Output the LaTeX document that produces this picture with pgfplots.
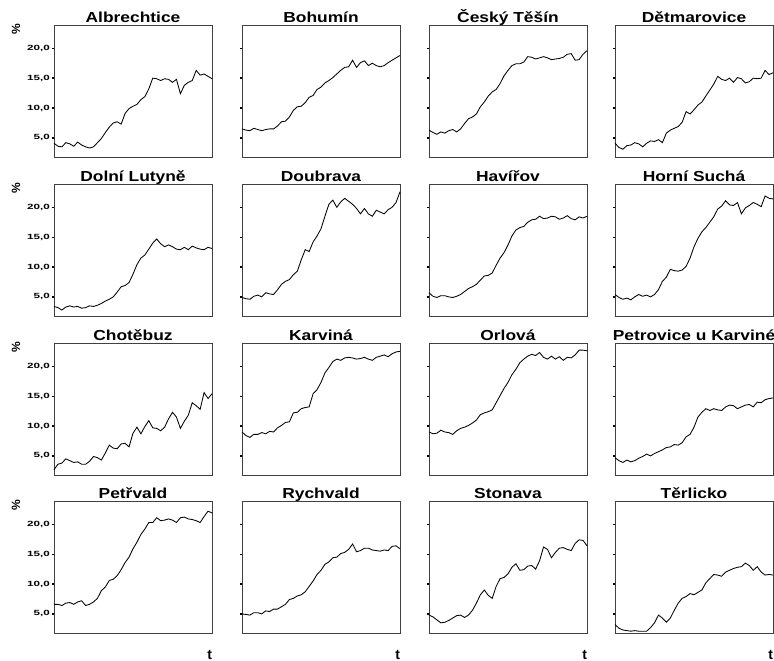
\documentclass[border=0pt]{standalone}
\usepackage{fontspec}
\setmainfont{Liberation Sans}
\usepackage{graphicx}
\usepackage{pgfplots}
\usepackage{pgfplotstable}
\pgfplotsset{compat=1.18}

\newcommand\tl[1]{\scalebox{1.55}[1]{\fontsize{7.5}{7.5}\selectfont\bfseries #1}}
\newcommand\ttl[1]{\scalebox{1.2}[1]{\fontsize{14.5}{14.5}\selectfont\bfseries #1}}

\pgfplotstableread[row sep=\\]{y\\4.1\\3.6\\3.5\\4.2\\4.0\\3.6\\4.3\\3.8\\3.5\\3.3\\3.5\\4.2\\4.9\\5.9\\6.8\\7.5\\7.7\\7.3\\9.1\\9.9\\10.3\\10.6\\11.4\\11.9\\13.2\\15.0\\14.9\\14.6\\14.9\\14.8\\14.3\\14.8\\12.4\\13.8\\14.3\\14.6\\16.3\\15.5\\15.7\\15.3\\14.9\\}\tA
\pgfplotstableread[row sep=\\]{y\\6.5\\6.3\\6.2\\6.6\\6.4\\6.2\\6.4\\6.5\\6.5\\7.0\\7.7\\7.8\\8.5\\9.6\\10.2\\10.3\\10.9\\11.8\\12.1\\13.1\\13.5\\14.2\\14.6\\15.1\\15.7\\16.3\\16.8\\16.9\\18.0\\16.8\\17.6\\17.9\\17.1\\17.5\\17.1\\16.9\\17.1\\17.6\\18.0\\18.4\\18.8\\}\tB
\pgfplotstableread[row sep=\\]{y\\6.3\\5.9\\5.6\\6.0\\5.8\\6.2\\6.4\\6.0\\6.5\\7.4\\8.2\\8.5\\9.0\\10.2\\11.0\\12.0\\12.7\\13.1\\14.1\\15.4\\16.3\\17.1\\17.4\\17.4\\17.7\\18.6\\18.5\\18.2\\18.4\\18.6\\18.4\\18.1\\18.2\\18.3\\18.5\\19.0\\19.1\\18.0\\18.1\\19.0\\19.6\\}\tC
\pgfplotstableread[row sep=\\]{y\\4.1\\3.4\\3.1\\3.7\\3.8\\4.2\\4.0\\3.5\\4.1\\4.5\\4.4\\4.7\\4.2\\5.8\\6.3\\6.6\\6.9\\7.6\\9.4\\9.0\\9.7\\10.5\\11.0\\12.0\\13.0\\14.0\\15.3\\14.8\\14.6\\15.0\\14.3\\15.1\\14.9\\14.2\\14.4\\15.0\\14.9\\15.0\\16.3\\15.6\\15.9\\}\tD
\pgfplotstableread[row sep=\\]{y\\3.4\\3.2\\2.8\\3.3\\3.5\\3.3\\3.4\\3.1\\3.2\\3.5\\3.4\\3.6\\3.9\\4.3\\4.6\\5.0\\5.8\\6.7\\6.9\\7.4\\8.8\\10.4\\11.5\\12.0\\13.0\\14.0\\14.7\\13.9\\13.4\\13.7\\13.4\\13.0\\12.9\\13.3\\12.9\\13.5\\13.2\\13.0\\12.9\\13.3\\13.1\\}\tE
\pgfplotstableread[row sep=\\]{y\\4.9\\4.7\\4.6\\5.1\\5.3\\5.0\\5.7\\5.5\\5.4\\6.2\\7.1\\7.6\\7.9\\8.7\\9.3\\11.2\\12.9\\12.6\\14.2\\15.2\\16.4\\18.5\\20.5\\21.2\\20.0\\20.9\\21.5\\21.0\\20.5\\19.8\\18.9\\19.8\\18.9\\18.5\\19.5\\19.2\\18.9\\19.6\\20.0\\20.8\\22.6\\}\tF
\pgfplotstableread[row sep=\\]{y\\5.7\\5.1\\4.9\\5.2\\5.2\\5.0\\4.9\\5.1\\5.4\\5.9\\6.4\\6.7\\7.1\\7.8\\8.5\\8.6\\9.0\\10.3\\11.5\\12.4\\13.7\\15.2\\16.2\\16.6\\16.8\\17.5\\17.9\\18.0\\18.5\\18.1\\18.2\\18.5\\18.4\\18.0\\18.2\\18.6\\18.1\\17.9\\18.4\\18.2\\18.5\\}\tG
\pgfplotstableread[row sep=\\]{y\\5.4\\4.9\\4.6\\4.8\\4.5\\5.0\\5.4\\5.1\\5.3\\5.0\\5.4\\6.2\\7.6\\8.3\\9.6\\9.4\\9.3\\9.5\\10.1\\11.5\\13.4\\14.8\\15.9\\16.6\\17.5\\18.4\\19.7\\20.2\\21.1\\20.4\\20.3\\20.8\\18.9\\19.9\\20.3\\20.8\\20.5\\20.1\\21.9\\21.5\\21.4\\}\tH
\pgfplotstableread[row sep=\\]{y\\2.7\\3.6\\3.8\\4.5\\4.2\\3.9\\4.0\\3.6\\3.6\\4.1\\4.9\\4.7\\4.3\\5.5\\6.8\\6.3\\6.2\\7.0\\7.1\\6.5\\8.8\\9.8\\8.7\\9.9\\10.9\\9.7\\9.6\\9.2\\9.8\\11.2\\12.3\\11.5\\9.6\\10.8\\11.8\\13.9\\13.4\\12.8\\15.6\\14.6\\15.4\\}\tI
\pgfplotstableread[row sep=\\]{y\\9.0\\8.4\\8.1\\8.6\\8.6\\8.9\\8.7\\9.1\\9.0\\9.7\\10.1\\10.6\\10.7\\12.2\\12.3\\12.9\\13.1\\13.2\\15.4\\16.1\\17.3\\18.9\\19.8\\20.8\\21.2\\21.0\\21.4\\21.5\\21.4\\21.2\\21.3\\21.5\\21.2\\21.0\\21.5\\21.7\\21.9\\21.6\\22.1\\22.4\\22.5\\}\tJ
\pgfplotstableread[row sep=\\]{y\\9.0\\8.7\\8.8\\9.3\\9.0\\8.9\\8.6\\9.2\\9.6\\9.8\\10.1\\10.5\\11.0\\11.9\\12.2\\12.4\\12.7\\13.9\\15.1\\16.3\\17.3\\18.6\\19.5\\20.6\\21.2\\21.7\\22.0\\21.8\\22.3\\21.5\\21.2\\21.7\\21.2\\21.6\\21.0\\21.5\\21.4\\21.9\\22.7\\22.7\\22.6\\}\tK
\pgfplotstableread[row sep=\\]{y\\4.7\\4.2\\3.9\\4.3\\4.0\\4.2\\4.6\\4.9\\5.3\\5.0\\5.4\\5.7\\6.0\\6.4\\6.5\\6.9\\6.8\\7.2\\8.2\\8.6\\9.8\\11.5\\12.3\\12.9\\12.6\\12.9\\12.7\\12.6\\13.2\\13.5\\13.4\\12.9\\13.2\\13.5\\13.6\\13.2\\14.0\\13.9\\14.4\\14.6\\14.7\\}\tL
\pgfplotstableread[row sep=\\]{y\\6.6\\6.6\\6.4\\6.8\\6.9\\6.6\\7.0\\7.2\\6.4\\6.6\\7.0\\7.6\\8.9\\9.5\\10.6\\10.8\\11.4\\12.4\\13.6\\14.5\\15.9\\17.0\\18.3\\19.2\\20.3\\20.3\\21.1\\20.6\\20.7\\20.9\\20.7\\20.3\\21.1\\21.2\\20.9\\20.8\\20.6\\20.3\\21.3\\22.2\\21.9\\}\tM
\pgfplotstableread[row sep=\\]{y\\5.0\\4.9\\4.8\\5.2\\5.2\\5.0\\5.5\\5.4\\5.8\\5.8\\6.2\\6.6\\7.4\\7.6\\8.0\\8.2\\8.7\\9.6\\10.5\\11.6\\12.3\\13.3\\13.7\\14.4\\14.5\\15.1\\15.3\\15.8\\16.7\\15.4\\15.6\\16.0\\16.0\\15.7\\15.6\\15.5\\15.7\\15.6\\16.3\\16.4\\15.9\\}\tN
\pgfplotstableread[row sep=\\]{y\\4.8\\4.5\\4.0\\3.5\\3.6\\3.9\\4.3\\4.7\\4.8\\4.4\\4.8\\5.6\\6.8\\8.2\\9.0\\8.1\\7.6\\9.6\\10.9\\11.1\\11.7\\12.8\\13.4\\12.3\\12.4\\13.0\\13.1\\12.5\\13.9\\16.2\\15.8\\14.4\\15.3\\16.0\\16.1\\15.8\\15.6\\16.8\\17.4\\17.3\\16.4\\}\tO
\pgfplotstableread[row sep=\\]{y\\3.2\\2.6\\2.3\\2.2\\2.1\\2.2\\2.1\\2.1\\2.1\\2.7\\3.5\\4.8\\4.3\\3.6\\4.3\\5.6\\6.8\\7.6\\7.9\\8.4\\8.2\\8.6\\9.0\\10.2\\10.9\\11.6\\11.5\\11.3\\12.0\\12.3\\12.6\\12.8\\12.9\\13.5\\13.1\\12.3\\12.9\\12.0\\11.5\\11.6\\11.5\\}\tP

\pgfplotsset{
  panel/.style={
    scale only axis, width=158pt, height=132pt, anchor=south west,
    xmin=0, xmax=40, ymin=1.8, ymax=23.9, clip=false,
    xtick=\empty, ytick={5,10,15,20}, yticklabels={},
    ytick pos=left, tick align=outside, major tick length=2pt,
    ytick style={black, line width=1.3pt},
    axis line style={black!75, line width=0.8pt},
    title style={at={(0.5,1)}, anchor=base, inner sep=0pt, yshift=-3.5pt},
    yticklabel style={inner sep=0pt, xshift=-2pt},
  },
  ln/.style={black, line width=0.85pt, no marks},
  first/.style={yticklabels={{\tl{5,0}},{\tl{10,0}},{\tl{15,0}},{\tl{20,0}}}},
}
\newcommand\pct{\node[rotate=90, inner sep=0pt, xshift=-4pt, yshift=38pt, font=\fontsize{12}{12}\selectfont\bfseries] at (rel axis cs:0,1) {\%};}
\newcommand\tlab{\node[inner sep=0pt, yshift=-22pt, font=\fontsize{14}{14}\selectfont\bfseries] at (rel axis cs:0.985,0) {t};}

\begin{document}
\begin{tikzpicture}
\useasboundingbox (0,0) rectangle (774pt,661pt);
\fill[white] (0,0) rectangle (774pt,661pt);
% row 1
\begin{axis}[panel, first, at={(54pt,504pt)}, title={\ttl{Albrechtice}}]
\addplot[ln] table[x expr=\coordindex, y=y] {\tA}; \pct
\end{axis}
\begin{axis}[panel, at={(242pt,504pt)}, title={\ttl{Bohumín}}]
\addplot[ln] table[x expr=\coordindex, y=y] {\tB};
\end{axis}
\begin{axis}[panel, at={(429pt,504pt)}, title={\ttl{Český Těšín}}]
\addplot[ln] table[x expr=\coordindex, y=y] {\tC};
\end{axis}
\begin{axis}[panel, at={(615pt,504pt)}, title={\ttl{Dětmarovice}}]
\addplot[ln] table[x expr=\coordindex, y=y] {\tD};
\end{axis}
% row 2
\begin{axis}[panel, first, at={(54pt,345pt)}, title={\ttl{Dolní Lutyně}}]
\addplot[ln] table[x expr=\coordindex, y=y] {\tE}; \pct
\end{axis}
\begin{axis}[panel, at={(242pt,345pt)}, title={\ttl{Doubrava}}]
\addplot[ln] table[x expr=\coordindex, y=y] {\tF};
\end{axis}
\begin{axis}[panel, at={(429pt,345pt)}, title={\ttl{Havířov}}]
\addplot[ln] table[x expr=\coordindex, y=y] {\tG};
\end{axis}
\begin{axis}[panel, at={(615pt,345pt)}, title={\ttl{Horní Suchá}}]
\addplot[ln] table[x expr=\coordindex, y=y] {\tH};
\end{axis}
% row 3
\begin{axis}[panel, first, at={(54pt,186pt)}, title={\ttl{Chotěbuz}}]
\addplot[ln] table[x expr=\coordindex, y=y] {\tI}; \pct
\end{axis}
\begin{axis}[panel, at={(242pt,186pt)}, title={\ttl{Karviná}}]
\addplot[ln] table[x expr=\coordindex, y=y] {\tJ};
\end{axis}
\begin{axis}[panel, at={(429pt,186pt)}, title={\ttl{Orlová}}]
\addplot[ln] table[x expr=\coordindex, y=y] {\tK};
\end{axis}
\begin{axis}[panel, at={(615pt,186pt)}, title={\ttl{Petrovice u Karviné}}]
\addplot[ln] table[x expr=\coordindex, y=y] {\tL};
\end{axis}
% row 4
\begin{axis}[panel, first, at={(54pt,28pt)}, title={\ttl{Petřvald}}]
\addplot[ln] table[x expr=\coordindex, y=y] {\tM}; \pct \tlab
\end{axis}
\begin{axis}[panel, at={(242pt,28pt)}, title={\ttl{Rychvald}}]
\addplot[ln] table[x expr=\coordindex, y=y] {\tN}; \tlab
\end{axis}
\begin{axis}[panel, at={(429pt,28pt)}, title={\ttl{Stonava}}]
\addplot[ln] table[x expr=\coordindex, y=y] {\tO}; \tlab
\end{axis}
\begin{axis}[panel, at={(615pt,28pt)}, title={\ttl{Těrlicko}}]
\addplot[ln] table[x expr=\coordindex, y=y] {\tP}; \tlab
\end{axis}
\end{tikzpicture}
\end{document}
